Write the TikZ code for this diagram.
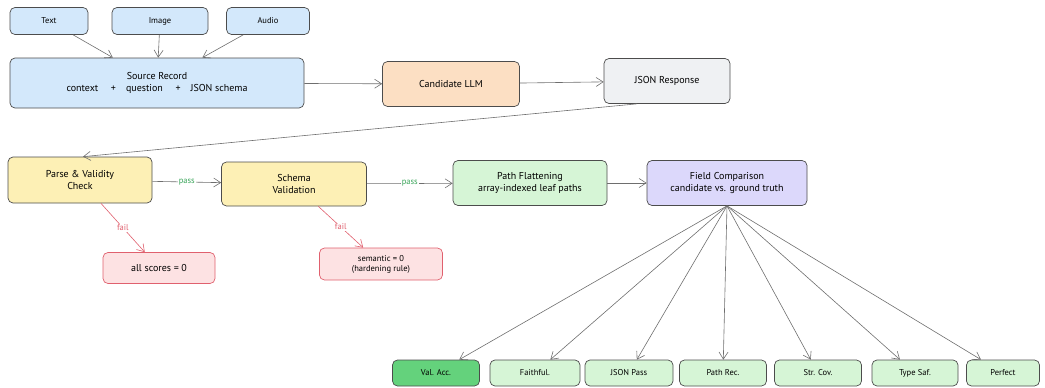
\documentclass[tikz,border=0pt]{standalone}
\usepackage{fontspec}
\setmainfont{PT Sans}
\usetikzlibrary{arrows.meta}
\definecolor{blueF}{HTML}{D3E8FB}
\definecolor{orangeF}{HTML}{FCDFC3}
\definecolor{grayF}{HTML}{EFF1F3}
\definecolor{yellowF}{HTML}{FDF0B5}
\definecolor{redF}{HTML}{FDE2E3}
\definecolor{redD}{HTML}{E0606E}
\definecolor{greenF}{HTML}{D6F5D6}
\definecolor{greenD}{HTML}{64D27C}
\definecolor{purpleF}{HTML}{DCD8FB}
\definecolor{passC}{HTML}{3AA55A}
\definecolor{edgeC}{HTML}{6E6E6E}
\begin{document}
\begin{tikzpicture}[x=1pt,y=-1pt,
  box/.style={draw=black!70, line width=0.7pt, rounded corners=5pt, align=center, inner sep=0pt, font=\fontsize{10}{12.5}\selectfont},
  smallbox/.style={box, font=\fontsize{8.5}{10}\selectfont},
  failbox/.style={box, draw=redD, fill=redF},
  metric/.style={smallbox, fill=greenF, minimum width=87, minimum height=26},
  conn/.style={draw=edgeC, line width=0.6pt, -{Straight Barb[length=7pt,width=9pt]}},
  failconn/.style={conn, draw=redD},
  passlbl/.style={fill=white, inner sep=1pt, text=passC, font=\fontsize{8.5}{10}\selectfont},
  faillbl/.style={fill=white, inner sep=1pt, text=redD, font=\fontsize{8.5}{10}\selectfont}]
\useasboundingbox (0,0) rectangle (1045,388);

\node[smallbox, fill=blueF, minimum width=78, minimum height=27] (text) at (49,21) {Text};
\node[smallbox, fill=blueF, minimum width=96, minimum height=27] (image) at (160,21) {Image};
\node[smallbox, fill=blueF, minimum width=83, minimum height=27] (audio) at (268,21) {Audio};
\node[box, fill=blueF, minimum width=294, minimum height=50] (src) at (157,83) {Source Record\\context \quad+\quad question \quad+\quad JSON schema};
\node[box, fill=orangeF, minimum width=137, minimum height=45] (llm) at (451,84) {Candidate LLM};
\node[box, fill=grayF, minimum width=126, minimum height=45] (resp) at (667,81) {JSON Response};

\node[box, fill=yellowF, minimum width=144, minimum height=46] (parse) at (80,180) {Parse \& Validity\\Check};
\node[box, fill=yellowF, minimum width=145, minimum height=44] (schema) at (294,184) {Schema\\Validation};
\node[box, fill=greenF, minimum width=154, minimum height=45] (flat) at (530,183) {Path Flattening\\array-indexed leaf paths};
\node[box, fill=purpleF, minimum width=160, minimum height=45] (field) at (727,183) {Field Comparison\\candidate vs. ground truth};

\node[failbox, minimum width=112, minimum height=31] (allzero) at (159,268) {all scores = 0};
\node[failbox, font=\fontsize{8.5}{10}\selectfont, minimum width=123, minimum height=32] (sem) at (381,264) {semantic = 0\\(hardening rule)};

\node[metric, fill=greenD, minimum width=87] (va) at (436,373) {Val. Acc.};
\node[metric, minimum width=90] (fa) at (535,373) {Faithful.};
\node[metric, minimum width=88] (jp) at (629,373) {JSON Pass};
\node[metric, minimum width=87] (pr) at (723,373) {Path Rec.};
\node[metric, minimum width=87] (sc) at (818,373) {Str. Cov.};
\node[metric, minimum width=86] (ts) at (915,373) {Type Saf.};
\node[metric, minimum width=73] (pf) at (1003,373) {Perfect};

\draw[conn] (text) -- (src);
\draw[conn] (image) -- (src);
\draw[conn] (audio) -- (src);
\draw[conn] (src) -- (llm);
\draw[conn] (llm) -- (resp);
\draw[conn] ([xshift=-30pt]resp.south) -- ([xshift=3pt]parse.north);
\draw[conn] (parse) -- node[passlbl] {pass} (schema);
\draw[conn] (schema) -- node[passlbl] {pass} (flat);
\draw[conn] (flat) -- (field);
\draw[failconn] (parse) -- node[faillbl] {fail} (allzero);
\draw[failconn] (schema) -- node[faillbl] {fail} (sem);
\foreach \m in {va,fa,jp,pr,sc,ts,pf}{
  \draw[conn] (field.south) -- (\m);
}
\end{tikzpicture}
\end{document}
